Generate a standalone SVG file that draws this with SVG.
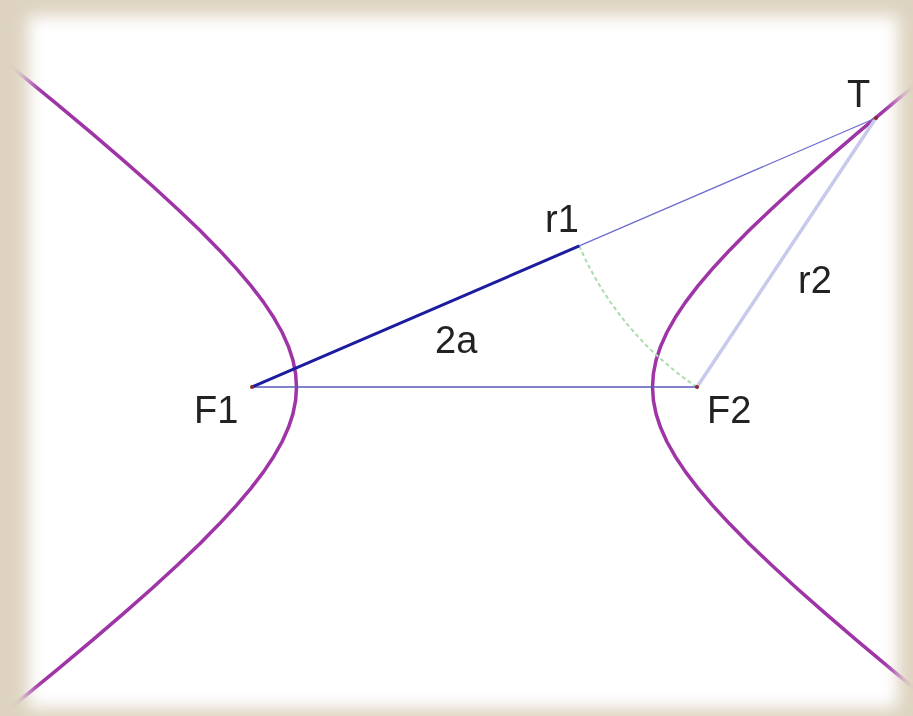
<svg xmlns="http://www.w3.org/2000/svg" width="913" height="716" viewBox="0 0 913 716">
  <defs>
    <filter id="soft" x="-10%" y="-10%" width="120%" height="120%">
      <feGaussianBlur stdDeviation="8"/>
    </filter>
    <mask id="frameMask" maskUnits="userSpaceOnUse" x="0" y="0" width="913" height="716">
      <rect x="0" y="0" width="913" height="716" fill="black"/>
      <rect x="28" y="16" width="870" height="692" fill="white" filter="url(#soft)"/>
    </mask>
    <style>
      .curve { fill: none; stroke: #9e34a6; stroke-width: 3.5; stroke-linejoin: round; stroke-linecap: round; }
      .lbl { font-family: "Liberation Sans", Arial, sans-serif; font-size: 38px; fill: #222; }
      .pt { fill: #8b2a2a; }
    </style>
  </defs>

  <rect x="0" y="0" width="913" height="716" fill="#ddd3c0"/>
  <rect x="28" y="16" width="870" height="692" fill="#ffffff" filter="url(#soft)"/>

  <g mask="url(#frameMask)">
    <g id="hyperbola" transform="translate(-1,1)">
      <polyline class="curve" points="978.94,33.34 934.29,69.34 894.23,102.17 858.36,132.16 826.32,159.61 797.8,184.79 772.5,207.96 750.17,229.35 730.59,249.17 713.56,267.61 698.92,284.88 686.51,301.13 676.22,316.54 667.93,331.25 661.57,345.41 657.07,359.16 654.39,372.65 653.5,386 654.39,399.35 657.07,412.84 661.57,426.59 667.93,440.75 676.22,455.46 686.51,470.87 698.92,487.12 713.56,504.39 730.59,522.83 750.17,542.65 772.5,564.04 797.8,587.21 826.32,612.39 858.36,639.84 894.23,669.83 934.29,702.66 978.94,738.66"/>
      <polyline class="curve" points="-27.94,33.34 16.71,69.34 56.77,102.17 92.64,132.16 124.68,159.61 153.2,184.79 178.5,207.96 200.83,229.35 220.41,249.17 237.44,267.61 252.08,284.88 264.49,301.13 274.78,316.54 283.07,331.25 289.43,345.41 293.93,359.16 296.61,372.65 297.5,386 296.61,399.35 293.93,412.84 289.43,426.59 283.07,440.75 274.78,455.46 264.49,470.87 252.08,487.12 237.44,504.39 220.41,522.83 200.83,542.65 178.5,564.04 153.2,587.21 124.68,612.39 92.64,639.84 56.77,669.83 16.71,702.66 -27.94,738.66"/>
    </g>

    <g id="connectors">
      <path d="M579.3,245.9 A323.1,323.1 0 0 0 697,387" fill="none" stroke="#acdcac" stroke-width="2" stroke-dasharray="4 3"/>
      <line x1="252" y1="387" x2="697" y2="387" stroke="#5a5abc" stroke-width="1.6"/>
      <line x1="697" y1="387" x2="876" y2="118" stroke="#c9c9ec" stroke-width="3.5"/>
      <line x1="579.3" y1="245.9" x2="876" y2="118" stroke="#6c6cd0" stroke-width="1.3"/>
      <line x1="252" y1="387" x2="579.3" y2="245.9" stroke="#1c1ca0" stroke-width="3"/>
    </g>

    <g id="F1">
      <circle class="pt" cx="252" cy="387" r="2"/>
      <text class="lbl" x="194" y="423">F1</text>
    </g>
    <g id="F2">
      <circle class="pt" cx="697" cy="387" r="2"/>
      <text class="lbl" x="707" y="423">F2</text>
    </g>
    <g id="T">
      <circle class="pt" cx="876" cy="118" r="2"/>
      <text class="lbl" x="847" y="107">T</text>
    </g>
    <g id="P">
      <text class="lbl" x="545" y="232">r1</text>
    </g>
    <g id="label-2a">
      <text class="lbl" x="435" y="353">2a</text>
    </g>
    <g id="label-r2">
      <text class="lbl" x="798" y="293">r2</text>
    </g>
  </g>
</svg>
